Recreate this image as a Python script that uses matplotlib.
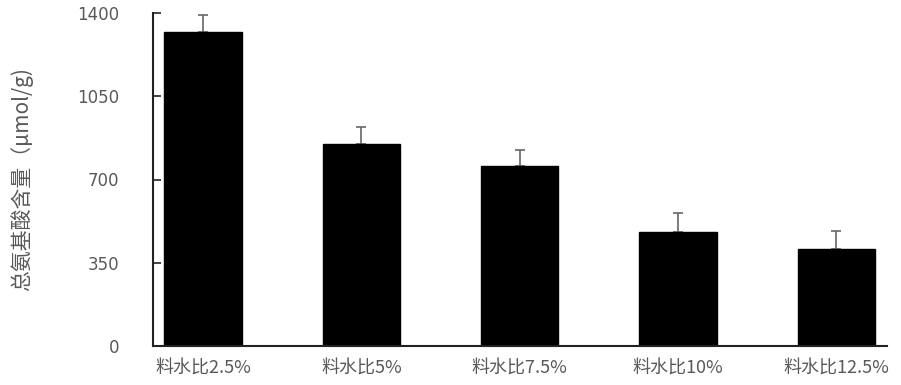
import matplotlib
matplotlib.use("Agg")
import matplotlib.pyplot as plt

plt.rcParams['font.family'] = ['Noto Sans CJK SC', 'DejaVu Sans']

categories = ['料水比2.5%', '料水比5%', '料水比7.5%', '料水比10%', '料水比12.5%']
values = [1320, 850, 757, 478, 408]
errors = [72, 69, 67, 80, 74]
yticks = [0, 350, 700, 1050, 1400]

fig = plt.figure(figsize=(9.01, 3.85), dpi=100)
ax = fig.add_axes([152.7 / 901, 1 - 346 / 385, 734 / 901, 333 / 385])

x = list(range(len(categories)))
ax.bar(x, values, width=0.49, color='black', edgecolor='black', zorder=2)
ax.errorbar(x, values, yerr=[[0] * len(errors), errors], fmt='none',
            ecolor='#666666', elinewidth=1.2, capsize=3.5, capthick=1.2, zorder=1)

ax.set_xlim(-0.318, 4.318)
ax.set_ylim(0, 1400)
ax.set_yticks(yticks)
ax.set_xticks(x)
ax.set_xticklabels(categories)
for lab in ax.get_yticklabels():
    lab.set_family(['DejaVu Sans', 'Noto Sans CJK SC'])

ax.spines['top'].set_visible(False)
ax.spines['right'].set_visible(False)
ax.spines['left'].set_linewidth(1.5)
ax.spines['bottom'].set_linewidth(1.5)
ax.spines['left'].set_color('#222222')
ax.spines['bottom'].set_color('#222222')

ax.tick_params(axis='y', direction='in', length=6, width=1.2, pad=24,
               labelsize=12, labelcolor='#595959', color='#222222')
ax.tick_params(axis='x', length=0, pad=10, labelsize=13, labelcolor='#595959')

ax.set_ylabel('总氨基酸含量（μmol/g)', fontsize=15, color='#595959')
ax.yaxis.set_label_coords(-0.163, 0.5)

fig.savefig('out.png', dpi=100)
